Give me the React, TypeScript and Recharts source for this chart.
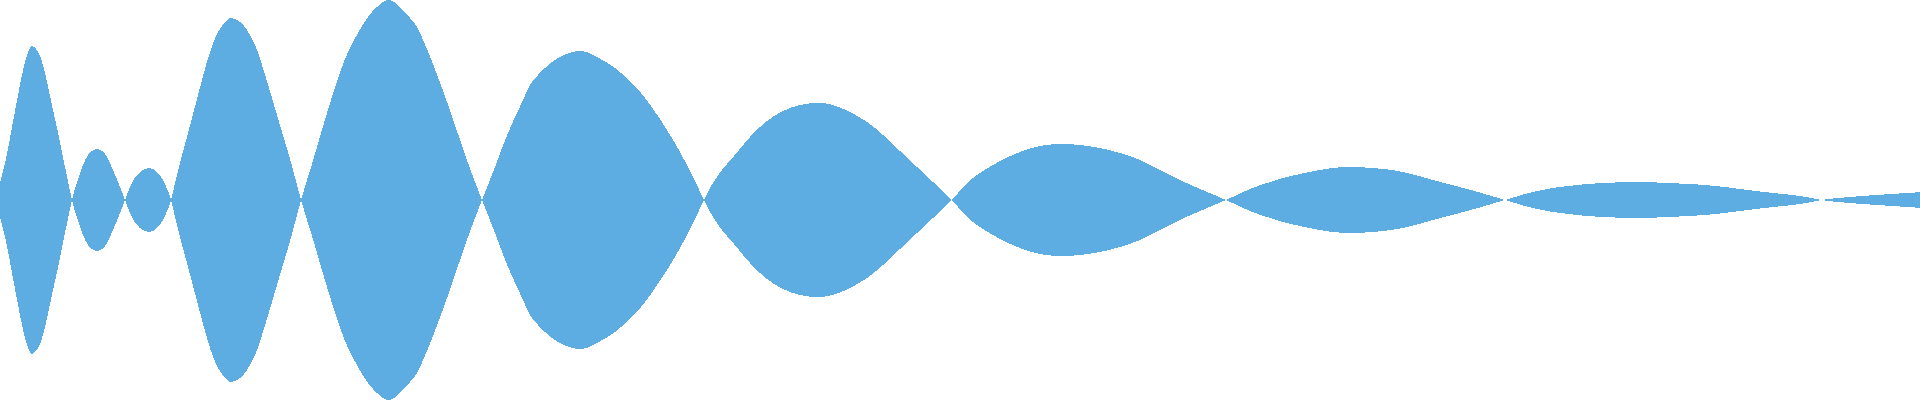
import { AreaChart, Area, XAxis, YAxis } from 'recharts';

// sample time (ms) and signed amplitude of the waveform
const times = [
    0, 5, 10, 15, 20, 25, 29, 32, 36, 40, 45, 50, 57, 63, 72,
    78, 83, 88, 92, 97, 102, 107, 113, 120, 125,
    130, 134, 140, 149, 157, 163, 168, 171,
    179, 188, 197, 205, 210, 217, 226, 232, 240, 247, 255, 262, 272, 282, 292, 301,
    312, 321, 331, 342, 350, 358, 368, 377, 388, 400, 410, 415, 420, 433, 447, 457, 468, 482,
    495, 508, 523, 532, 545, 558, 579, 597, 615, 633, 648, 667, 687, 704,
    713, 722, 734, 750, 767, 783, 800, 817, 833, 850, 867, 883, 900, 917, 933, 952,
    967, 983, 1000, 1020, 1040, 1060, 1080, 1100, 1120, 1140, 1160, 1180, 1200, 1226,
    1250, 1267, 1283, 1300, 1317, 1333, 1355, 1383, 1400, 1417, 1433, 1450, 1467, 1483, 1505,
    1515, 1525, 1535, 1545, 1555, 1567, 1580, 1595, 1610, 1640, 1667, 1690, 1710, 1727, 1750, 1775, 1800, 1822,
    1835, 1850, 1865, 1880, 1895, 1920,
];

const amplitude = [
    17, 37, 62, 89, 115, 138, 150, 154, 151, 144, 127, 104, 72, 43, 0,
    -20, -35, -45, -49, -51, -49, -43, -30, -13, 0,
    13, 21, 28, 32, 28, 20, 9, 0,
    -33, -67, -101, -131, -148, -166, -179, -182, -178, -170, -155, -135, -102, -68, -34, 0,
    36, 67, 100, 133, 152, 167, 183, 193, 200, 193, 182, 176, 167, 136, 98, 69, 37, 0,
    -33, -67, -100, -118, -132, -142, -149, -143, -132, -116, -98, -70, -35, 0,
    17, 30, 44, 63, 79, 89, 95, 97, 95, 88, 78, 65, 49, 33, 18, 0,
    -17, -29, -39, -48, -54, -56, -55, -52, -47, -40, -30, -20, -11, 0,
    11, 17, 22, 26, 29.5, 32, 33, 31, 28.5, 24.5, 20, 15.5, 11, 6.5, 0,
    -3, -6, -8.5, -10.5, -12.3, -13.8, -15.3, -16.5, -17.3, -18, -17, -16, -14.5, -12.7, -9.7, -6.8, -4, 0,
    1.7, 3, 4.2, 5.2, 6.2, 7.8,
];

const data = times.map((t, i) => ({ t, v: amplitude[i] }));

export default function App() {
    return (
        <div style={{ position: 'absolute', left: 0, top: 0 }}>
            <AreaChart width={1920} height={400} data={data} margin={{ top: 0, right: 0, bottom: 0, left: 0 }}>
                <XAxis type="number" dataKey="t" domain={[0, 1920]} hide />
                <YAxis type="number" domain={[-200, 200]} hide />
                <Area
                    type="natural"
                    dataKey={(d: { v: number }) => [-d.v, d.v]}
                    stroke="none"
                    fill="#5DADE2"
                    fillOpacity={1}
                    shapeRendering="crispEdges"
                    dot={false}
                    activeDot={false}
                    isAnimationActive={false}
                />
            </AreaChart>
        </div>
    );
}
